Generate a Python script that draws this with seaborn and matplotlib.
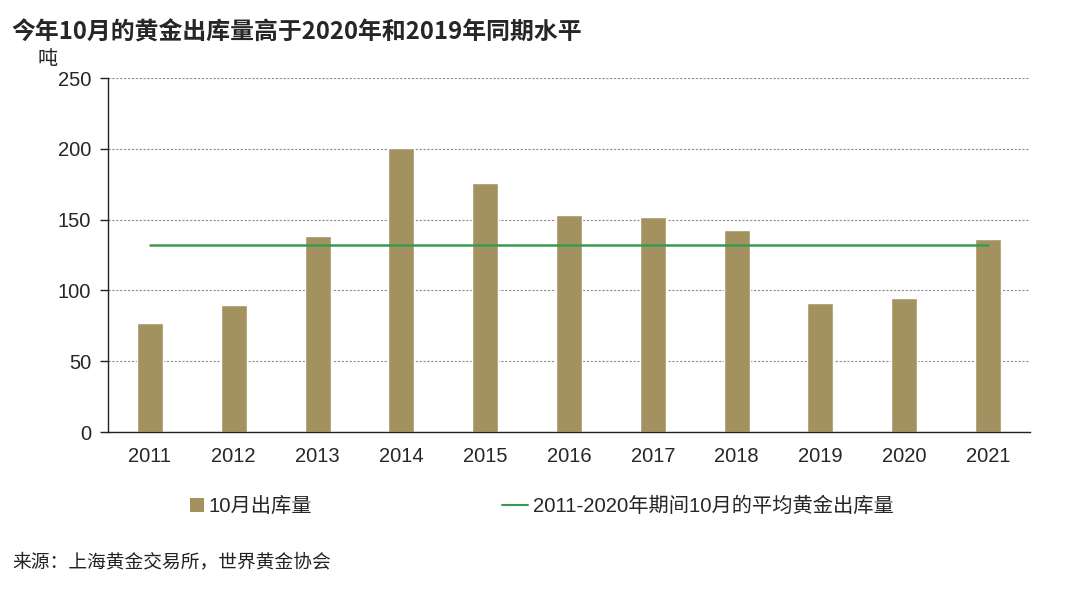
import numpy as np
import pandas as pd
import seaborn as sns
from matplotlib import pyplot as plt
from matplotlib.patches import Patch
from matplotlib.lines import Line2D

years = ['2011', '2012', '2013', '2014', '2015', '2016', '2017', '2018', '2019', '2020', '2021']
outflow = [77, 90, 138.5, 200.5, 176, 153, 151.5, 142.5, 91, 94.5, 136.5]
avg_outflow = 132

title = '今年10月的黄金出库量高于2020年和2019年同期水平'
bar_label = '10月出库量'
line_label = '2011-2020年期间10月的平均黄金出库量'
source = '来源：上海黄金交易所，世界黄金协会'

bar_color = '#a39260'
line_color = '#3a9a52'

sns.set_style('white')
plt.rcParams['font.family'] = ['Liberation Sans', 'Noto Sans CJK SC', 'DejaVu Sans']

df = pd.DataFrame({'year': years, 'value': outflow})

fig = plt.figure(figsize=(10.8, 5.91), dpi=100)
ax = fig.add_axes([0.1, 0.269, 0.8537, 0.599])

sns.barplot(data=df, x='year', y='value', color=bar_color, width=0.31,
            saturation=1, ax=ax)
ax.plot(np.arange(len(years)), [avg_outflow] * len(years), color=line_color, lw=1.8)

ax.set_ylim(0, 250)
ax.set_xlim(-0.5, len(years) - 0.5)
ax.set_yticks([0, 50, 100, 150, 200, 250])
ax.yaxis.grid(True, linestyle=(0, (2, 1.5)), color='#8c8c8c', lw=0.8)
ax.set_axisbelow(True)
ax.set_xlabel('')
ax.set_ylabel('')

for s in ['top', 'right']:
    ax.spines[s].set_visible(False)
for s in ['left', 'bottom']:
    ax.spines[s].set_color('#222222')
    ax.spines[s].set_linewidth(1.0)

# ticks between categories on the x axis
ax.set_xticks(np.arange(len(years)))
ax.set_xticklabels(years, fontsize=14.5)
ax.set_xticks(np.arange(len(years) + 1) - 0.5, minor=True)
ax.tick_params(axis='x', which='major', length=0, pad=11)
ax.tick_params(axis='x', which='minor', length=6, width=1, color='#222222', direction='out')
ax.tick_params(axis='y', length=6, width=1, color='#222222', direction='out', labelsize=14.5, pad=6)
ax.tick_params(axis='y', which='major', left=True)

fig.text(0.011, 0.945, title, fontsize=17.2, fontweight='bold',
         family=['Noto Sans CJK SC', 'DejaVu Sans'], va='center')
fig.text(0.035, 0.9, '吨', fontsize=14.5,
         family=['Noto Sans CJK SC', 'DejaVu Sans'], va='center')

legend_font = {'family': ['Liberation Sans', 'Noto Sans CJK SC'], 'size': 14.6}
fig.legend([Patch(facecolor=bar_color, edgecolor='none')], [bar_label],
           loc='center left', bbox_to_anchor=(0.159, 0.143), frameon=False,
           handlelength=0.7, handleheight=0.7, handletextpad=0.2, prop=legend_font)
fig.legend([Line2D([0], [0], color=line_color, lw=1.5)], [line_label],
           loc='center left', bbox_to_anchor=(0.448, 0.143), frameon=False,
           handlelength=1.3, handletextpad=0.2, prop=legend_font)

fig.text(0.011, 0.049, source, fontsize=13.5,
         family=['Noto Sans CJK SC', 'DejaVu Sans'], va='center', color='#222222')

fig.savefig('out.png', dpi=100, facecolor='white')
